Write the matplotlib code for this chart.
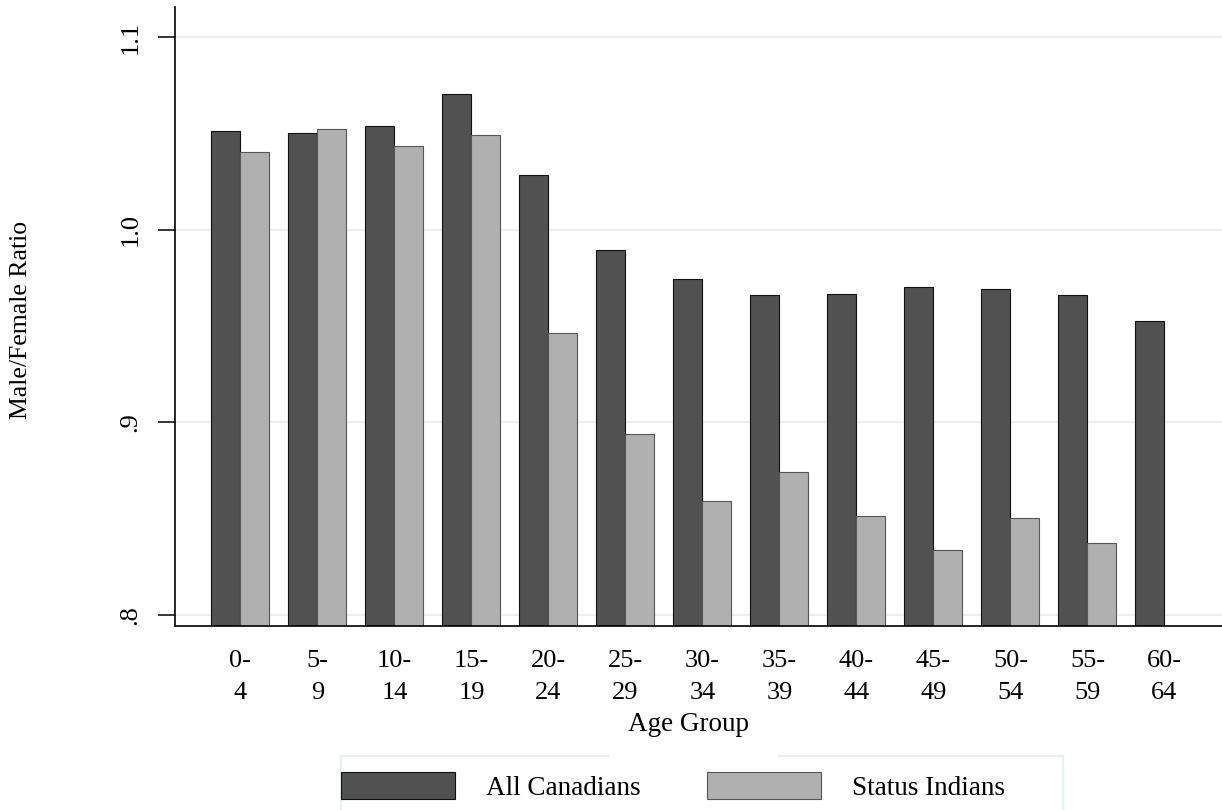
import matplotlib
matplotlib.use("Agg")
import matplotlib.pyplot as plt
import numpy as np
from matplotlib.patches import Patch
from matplotlib.lines import Line2D

plt.rcParams['font.family'] = ['Liberation Serif', 'DejaVu Serif']

age_groups = ["0-\n4", "5-\n9", "10-\n14", "15-\n19", "20-\n24", "25-\n29", "30-\n34",
              "35-\n39", "40-\n44", "45-\n49", "50-\n54", "55-\n59", "60-\n64"]
all_canadians = [1.0512, 1.0503, 1.0540, 1.0704, 1.0285, 0.9893, 0.9746,
                 0.9663, 0.9665, 0.9704, 0.9690, 0.9659, 0.9526]
status_indians = [1.0405, 1.0524, 1.0436, 1.0493, 0.9465, 0.8941, 0.8590,
                  0.8744, 0.8512, 0.8336, 0.8504, 0.8375, np.nan]
series_names = ["All Canadians", "Status Indians"]
yticks = [0.8, 0.9, 1.0, 1.1]
ytick_labels = [".8", ".9", "1.0", "1.1"]

W, H = 1222, 810
fig = plt.figure(figsize=(W / 100, H / 100), dpi=100)
ax = fig.add_axes([175 / W, 1 - 626 / H, (W - 175) / W, (626 - 7) / H])

dark = "#515151"
light = "#b0b0b0"
grid_c = "#e8f0f0"

ymin, ymax = 0.79429, 1.11557
x = np.arange(len(age_groups))
bw = 0.3766
base = 0.7
ax.bar(x - bw / 2, np.array(all_canadians) - base, bottom=base, width=bw,
       color=dark, edgecolor="#111111", linewidth=0.8, zorder=3)
ax.bar(x + bw / 2, np.array(status_indians) - base, bottom=base, width=bw,
       color=light, edgecolor="#555555", linewidth=0.8, zorder=3)

ax.set_xlim(-0.8506, 12.747)
ax.set_ylim(ymin, ymax)

ax.set_yticks(yticks)
ax.set_yticklabels(ytick_labels, rotation=90, va="center", fontsize=19)
ax.tick_params(axis="y", length=12, width=1.1, pad=12, direction="out")
ax.set_xticks(x)
ax.set_xticklabels(age_groups, fontsize=19)
for lbl in ax.get_xticklabels():
    lbl.set_linespacing(1.6)
ax.tick_params(axis="x", length=0, pad=17)

ax.grid(axis="y", color=grid_c, linewidth=1.6, zorder=0)
ax.set_axisbelow(True)
for s in ["top", "right"]:
    ax.spines[s].set_visible(False)
for s in ["left", "bottom"]:
    ax.spines[s].set_linewidth(1.2)
    ax.spines[s].set_color("black")
    ax.spines[s].set_zorder(4)

fig.text(21 / W, 1 - 320 / H, "Male/Female Ratio", rotation=90, ha="center",
         va="center", fontsize=18.5)
fig.text(689 / W, 1 - 731 / H, "Age Group", ha="center", va="baseline",
         fontsize=19.5)

# legend frame (top edge interrupted by axis title)
def px_line(x0, y0, x1, y1):
    fig.add_artist(Line2D([x0 / W, x1 / W], [1 - y0 / H, 1 - y1 / H],
                          color=grid_c, linewidth=1.6))

px_line(341, 756, 608, 756)
px_line(779, 756, 1063, 756)
px_line(341, 756, 341, 812)
px_line(1063, 756, 1063, 812)

colors = [dark, light]
edges = ["#111111", "#555555"]
lx = [341, 707]
fs = 19.5
em = fs * 100 / 72
for name, c, e, x0 in zip(series_names, colors, edges, lx):
    h = Patch(facecolor=c, edgecolor=e, linewidth=0.8)
    fig.legend([h], [name], loc="center left",
               bbox_to_anchor=(x0 / W, 1 - 786.5 / H), frameon=False,
               fontsize=fs, handlelength=114 / em, handleheight=31 / em,
               handletextpad=31 / em, borderpad=0, borderaxespad=0)

fig.savefig("out.png", dpi=100)
